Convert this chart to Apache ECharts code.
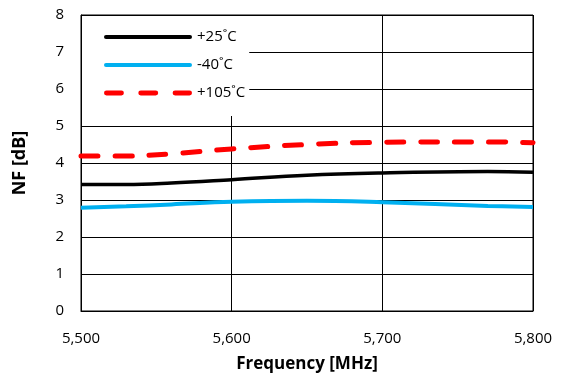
<!DOCTYPE html>
<html><head><meta charset="utf-8">
<script src="https://cdn.jsdelivr.net/npm/echarts@6/dist/echarts.min.js"></script>
<style>html,body{margin:0;padding:0;background:#fff}#c{width:562px;height:377px}</style>
</head><body><div id="c"></div>
<script>
const freq = [5500, 5530, 5560, 5600, 5650, 5700, 5770, 5800];
const nf25 = [3.42, 3.42, 3.46, 3.55, 3.67, 3.73, 3.77, 3.75];
const nfm40 = [2.79, 2.83, 2.88, 2.95, 2.98, 2.94, 2.84, 2.81];
const nf105 = [4.19, 4.19, 4.25, 4.38, 4.50, 4.56, 4.57, 4.55];
const seriesNames = ['+25˚C', '-40˚C', '+105˚C'];
const xTicks = [5500, 5600, 5700, 5800];
const yTicks = [0, 1, 2, 3, 4, 5, 6, 7, 8];

const font = 'Open Sans, Noto Sans, sans-serif';
const pair = arr => freq.map((f, i) => [f, arr[i]]);
const solidIcon = 'path://M2,0H86A2,2 0 0 1 86,4H2A2,2 0 0 1 2,0Z';
const dashIcon = 'path://M2.5,0H17.5A2.5,2.5 0 0 1 17.5,5H2.5A2.5,2.5 0 0 1 2.5,0Z M37,0H52A2.5,2.5 0 0 1 52,5H37A2.5,2.5 0 0 1 37,0Z M71.5,0H86A2.5,2.5 0 0 1 86,5H71.5A2.5,2.5 0 0 1 71.5,0Z';
const chart = echarts.init(document.getElementById('c'));
chart.setOption({
  animation: false,
  grid: { left: 81, right: 29, top: 15, bottom: 66, containLabel: false, outerBoundsMode: 'none',
    show: true, borderColor: '#000', borderWidth: 1, backgroundColor: 'transparent' },
  xAxis: {
    type: 'value', min: xTicks[0], max: xTicks[xTicks.length - 1], interval: 100,
    name: 'Frequency [MHz]', nameLocation: 'middle', nameGap: 45,
    nameTextStyle: { fontFamily: font, fontWeight: 'bold', fontSize: 17, color: '#000' },
    axisLine: { lineStyle: { color: '#000', width: 1 } },
    axisTick: { show: false },
    axisLabel: { fontFamily: font, fontSize: 15, color: '#000', margin: 20,
      formatter: v => v.toLocaleString('en-US') },
    splitLine: { show: true, lineStyle: { color: '#000', width: 1 } }
  },
  yAxis: {
    type: 'value', min: yTicks[0], max: yTicks[yTicks.length - 1], interval: 1,
    name: 'NF [dB]', nameLocation: 'middle', nameGap: 52,
    nameTextStyle: { fontFamily: font, fontWeight: 'bold', fontSize: 18, color: '#000' },
    axisLine: { show: true, lineStyle: { color: '#000', width: 1 } },
    axisTick: { show: false },
    axisLabel: { fontFamily: font, fontSize: 15, color: '#000', margin: 17 },
    splitLine: { show: true, lineStyle: { color: '#000', width: 1 } }
  },
  legend: {
    orient: 'vertical', left: 82, top: 16,
    padding: [11, 4, 13, 22],
    backgroundColor: '#fff',
    itemWidth: 88, itemHeight: 5, itemGap: 8,
    textStyle: { fontFamily: font, fontSize: 15, color: '#000', lineHeight: 20 },
    data: [
      { name: seriesNames[0], icon: solidIcon, itemStyle: { color: '#000' } },
      { name: seriesNames[1], icon: solidIcon, itemStyle: { color: '#00b0f0' } },
      { name: seriesNames[2], icon: dashIcon, itemStyle: { color: '#ff0000' } }
    ]
  },
  series: [
    { name: seriesNames[0], type: 'line', data: pair(nf25), smooth: 0.4, symbol: 'none',
      lineStyle: { color: '#000', width: 3.5 }, itemStyle: { color: '#000' }, z: 3 },
    { name: seriesNames[1], type: 'line', data: pair(nfm40), smooth: 0.4, symbol: 'none',
      lineStyle: { color: '#00b0f0', width: 4 }, itemStyle: { color: '#00b0f0' }, z: 2 },
    { name: seriesNames[2], type: 'line', data: pair(nf105), smooth: 0.4, symbol: 'none',
      lineStyle: { color: '#ff0000', width: 5, type: [17, 17], cap: 'round' }, itemStyle: { color: '#ff0000' }, z: 4 }
  ]
});
</script></body></html>
